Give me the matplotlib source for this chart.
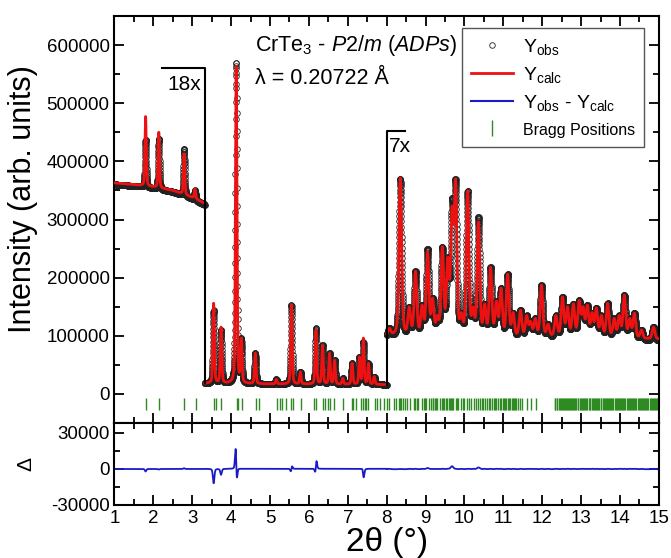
import numpy as np
import matplotlib
matplotlib.use('Agg')
import matplotlib.pyplot as plt
import matplotlib.ticker as mt
from matplotlib.lines import Line2D

plt.rcParams['font.family'] = 'Liberation Sans'
plt.rcParams['mathtext.fontset'] = 'custom'
plt.rcParams['mathtext.rm'] = 'Liberation Sans'
plt.rcParams['mathtext.it'] = 'Liberation Sans:italic'
plt.rcParams['axes.unicode_minus'] = False

# three parts of the pattern, each shown with its own magnification
part_edges = [1.0, 3.32, 8.0, 15.0]
part_scale = [18, 1, 7]
part_fwhm = [0.04, 0.045, 0.08]

# background (displayed intensity)
bg1_x = [1.0, 1.5, 2.0, 2.5, 3.0, 3.32]
bg1_y = [363000, 360000, 356000, 350000, 338000, 328000]
bg2_x = [3.32, 5.0, 8.0]
bg2_y = [18000, 17000, 16000]
bg3_x = [8.0, 9.0, 10.0, 11.0, 12.0, 13.0, 14.0, 15.0]
bg3_y = [100000, 97000, 96000, 96000, 97000, 97000, 95000, 94000]

# peaks: position, calc top, obs top (displayed intensity), obs position
pk1_pos = [1.80, 2.14, 2.79, 3.07]
pk1_calc = [477000, 450000, 413000, 353000]
pk1_obs = [437000, 439000, 422000, 350000]
pk1_opos = [1.80, 2.14, 2.79, 3.07]

pk2_pos = [3.55, 3.74, 4.13, 4.26, 4.62, 5.16, 5.55, 5.78, 6.18, 6.35, 6.53,
           6.66, 6.87, 7.11, 7.30, 7.40, 7.53, 7.68]
pk2_calc = [156000, 115000, 563000, 96000, 70000, 25000, 153000, 38000, 110000,
            84000, 70000, 58000, 27000, 53000, 64000, 96000, 53000, 30000]
pk2_obs = [144000, 110000, 570000, 96000, 70000, 25000, 153000, 38000, 113000,
           84000, 70000, 58000, 27000, 53000, 64000, 90000, 53000, 30000]
pk2_opos = [3.55, 3.74, 4.1293, 4.26, 4.62, 5.16, 5.5505, 5.78, 6.1815, 6.35, 6.53,
            6.66, 6.87, 7.11, 7.30, 7.399, 7.53, 7.68]

pk3_pos = [8.07, 8.35, 8.58, 8.74, 8.91, 9.05, 9.18, 9.30, 9.43, 9.57, 9.68, 9.77,
           9.92, 10.08, 10.22, 10.36, 10.52, 10.67, 10.82, 10.94, 11.11, 11.25,
           11.44, 11.60, 11.70, 11.82, 11.98, 12.15, 12.35, 12.52, 12.65, 12.80,
           12.95, 13.05, 13.16, 13.28, 13.39, 13.52, 13.68, 13.85, 13.98, 14.11,
           14.25, 14.37, 14.55, 14.86]
pk3_calc = [113000, 371000, 150000, 211000, 153000, 245000, 165000, 135000, 253000,
            235000, 322000, 369000, 140000, 349000, 150000, 296000, 155000, 218000,
            160000, 182000, 206000, 140000, 144000, 135000, 125000, 130000, 187000,
            120000, 135000, 167000, 150000, 155000, 161000, 150000, 153000, 140000,
            148000, 135000, 156000, 130000, 135000, 170000, 130000, 139000, 110000,
            115000]
pk3_obs = [113000, 370000, 150000, 211000, 153000, 250000, 165000, 135000, 253000,
           235000, 337000, 369000, 140000, 349000, 150000, 304000, 155000, 218000,
           160000, 182000, 206000, 140000, 144000, 135000, 125000, 130000, 187000,
           120000, 135000, 167000, 150000, 155000, 161000, 150000, 153000, 140000,
           148000, 135000, 156000, 130000, 135000, 170000, 130000, 139000, 110000,
           115000]
pk3_opos = pk3_pos

# Bragg reflections
bragg = [1.81, 2.14, 2.79, 3.09, 3.56, 3.61, 3.74, 4.14, 4.17, 4.29, 4.64, 4.71,
         5.19, 5.25, 5.32, 5.42, 5.55, 5.58, 5.79, 6.13, 6.18, 6.37, 6.41, 6.50,
         6.54, 6.65, 6.87, 7.10, 7.14, 7.20, 7.33, 7.39, 7.43, 7.48, 7.52, 7.70,
         7.76, 7.83, 7.93, 8.00, 8.06, 8.19, 8.25, 8.31, 8.34, 8.38, 8.42, 8.47,
         8.52, 8.60, 8.70, 8.73, 8.77, 8.81, 8.90, 8.95, 8.98, 9.02, 9.09, 9.13,
         9.18, 9.20, 9.23, 9.28, 9.30, 9.37, 9.41, 9.45, 9.47, 9.53, 9.56, 9.59,
         9.62, 9.65, 9.68, 9.71, 9.77, 9.81, 9.84, 9.90, 9.95, 10.00, 10.06, 10.12,
         10.18, 10.25, 10.30, 10.36, 10.40, 10.44, 10.47, 10.52, 10.57, 10.62,
         10.66, 10.70, 10.75, 10.78, 10.81, 10.86, 10.91, 10.95, 10.98, 11.02,
         11.05, 11.08, 11.12, 11.15, 11.18, 11.21, 11.24, 11.27, 11.30, 11.33,
         11.37, 11.42, 11.47, 11.60, 11.72, 11.85,
         12.32, 12.34, 12.37, 12.39, 12.42, 12.45, 12.47, 12.50, 12.53, 12.55,
         12.58, 12.61, 12.63, 12.66, 12.69, 12.72, 12.74, 12.77, 12.80, 12.82,
         12.85, 12.88, 12.91, 12.93, 12.96, 12.99, 13.02, 13.04, 13.07, 13.10,
         13.13, 13.16, 13.19, 13.22, 13.24, 13.27, 13.30, 13.33, 13.35, 13.38,
         13.41, 13.44, 13.47, 13.50, 13.52, 13.55, 13.58, 13.61, 13.63, 13.66,
         13.69, 13.72, 13.75, 13.78, 13.80, 13.83, 13.86, 13.89, 13.91, 13.94,
         13.97, 14.00, 14.03, 14.06, 14.08, 14.11, 14.14, 14.17, 14.20, 14.22,
         14.25, 14.28, 14.31, 14.34, 14.37, 14.39, 14.42, 14.45, 14.48, 14.51,
         14.53, 14.56, 14.59, 14.62, 14.65, 14.68, 14.70, 14.73, 14.76, 14.79,
         14.82, 14.84, 14.87, 14.90, 14.93, 14.96, 14.99]


def pv(x, x0, fwhm, eta=0.35):
    d = (np.asarray(x) - x0) / fwhm
    return eta / (1 + 4 * d**2) + (1 - eta) * np.exp(-4 * np.log(2) * d**2)


def profile(x, bgx, bgy, pos, tops, fwhm):
    # amplitudes chosen so the curve passes through the read peak tops
    pos = np.asarray(pos)
    m = np.array([[pv(p, q, fwhm) for q in pos] for p in pos])
    amp = np.linalg.solve(m, np.asarray(tops) - np.interp(pos, bgx, bgy))
    y = np.interp(x, bgx, bgy)
    for p, a in zip(pos, amp):
        y = y + a * pv(x, p, fwhm)
    return y


bgs = [(bg1_x, bg1_y), (bg2_x, bg2_y), (bg3_x, bg3_y)]
peaks = [(pk1_pos, pk1_calc, pk1_obs, pk1_opos),
         (pk2_pos, pk2_calc, pk2_obs, pk2_opos),
         (pk3_pos, pk3_calc, pk3_obs, pk3_opos)]

fig = plt.figure(figsize=(6.71, 5.58), dpi=100)
ax1 = fig.add_axes([0.1706, 0.2419, 0.8114, 0.7294])
ax2 = fig.add_axes([0.1706, 0.0950, 0.8114, 0.1470], sharex=ax1)

diff_x, diff_y = [], []
for i in range(3):
    lo, hi = part_edges[i], part_edges[i + 1]
    x = np.arange(lo, hi, 0.002)
    pos, ctop, otop, opos = peaks[i]
    bx, by = bgs[i]
    ycalc = profile(x, bx, by, pos, ctop, part_fwhm[i])
    yobs = profile(x, bx, np.array(by) - (2500 if i != 1 else 0), opos, otop, part_fwhm[i])
    ax1.plot(x, yobs, 'o', ms=4, mfc='none', mec='#222222', mew=0.6, zorder=2)
    ax1.plot(x, ycalc, '-', color='#ee1111', lw=2.0, zorder=3)
    diff_x.append(x)
    diff_y.append((yobs - ycalc) / part_scale[i])

ax2.plot(np.concatenate(diff_x), np.concatenate(diff_y), color='#1a1ac8', lw=1.3)

# Bragg ticks
ax1.vlines(bragg, -27000, -7000, color='#2e8b22', lw=1.0)

# magnification brackets
ax1.plot([2.22, 3.32, 3.32], [560000, 560000, 18000], color='black', lw=1.5, zorder=4)
ax1.plot([8.0, 8.0, 8.47], [16000, 453000, 453000], color='black', lw=1.5, zorder=4)
ax1.text(2.35, 532000, '18x', fontsize=15, va='center')
ax1.text(8.06, 425000, '7x', fontsize=15, va='center')

ax1.text(4.62, 600000, r'CrTe$_3$ - $\mathit{P2/m\ (ADPs)}$', fontsize=15.5, va='center')
ax1.text(4.62, 543000, 'λ = 0.20722 Å', fontsize=15.5, va='center')

handles = [Line2D([], [], ls='none', marker='o', ms=4, mfc='none', mec='#222222', mew=0.6),
           Line2D([], [], color='#ee1111', lw=2),
           Line2D([], [], color='#1a1ac8', lw=1.5),
           Line2D([], [], ls='none', marker='|', ms=11, mec='#2e8b22', mew=1)]
labels = [r'Y$_{\mathrm{obs}}$', r'Y$_{\mathrm{calc}}$',
          r'Y$_{\mathrm{obs}}$ - Y$_{\mathrm{calc}}$', 'Bragg Positions']
leg = ax1.legend(handles, labels, loc='upper right', bbox_to_anchor=(0.9725, 0.9705),
                 fontsize=14, frameon=True, fancybox=False, framealpha=1,
                 edgecolor='#555555', handlelength=2.2, handletextpad=0.5,
                 labelspacing=0.42, borderpad=0.45, numpoints=1, borderaxespad=0)
leg.get_frame().set_linewidth(1.0)
leg.get_texts()[3].set_fontsize(11.5)

ax1.set_xlim(1, 15)
ax1.set_ylim(-50000, 650000)
ax1.yaxis.set_major_locator(mt.MultipleLocator(100000))
ax1.yaxis.set_minor_locator(mt.MultipleLocator(50000))
ax1.xaxis.set_major_locator(mt.MultipleLocator(1))
ax1.xaxis.set_minor_locator(mt.MultipleLocator(0.5))
ax1.set_yticks([0, 100000, 200000, 300000, 400000, 500000, 600000])
ax1.set_ylabel('Intensity (arb. units)', fontsize=22)
ax1.yaxis.set_label_coords(-0.14, 0.55)

ax2.set_ylim(-30000, 38000)
ax2.set_yticks([-30000, 0, 30000])
ax2.yaxis.set_minor_locator(mt.MultipleLocator(15000))
ax2.set_ylabel('Δ', fontsize=15)
ax2.yaxis.set_label_coords(-0.145, 0.5)
ax2.set_xlabel('2θ (°)', fontsize=24, labelpad=0)

for ax in (ax1, ax2):
    ax.tick_params(which='both', direction='in', top=True, right=True, width=1.3,
                   labelsize=13.5)
    ax.tick_params(which='major', length=7)
    ax.tick_params(which='minor', length=4)
    for s in ax.spines.values():
        s.set_linewidth(1.5)
ax1.tick_params(labelbottom=False)

fig.savefig('out.png', dpi=100)
